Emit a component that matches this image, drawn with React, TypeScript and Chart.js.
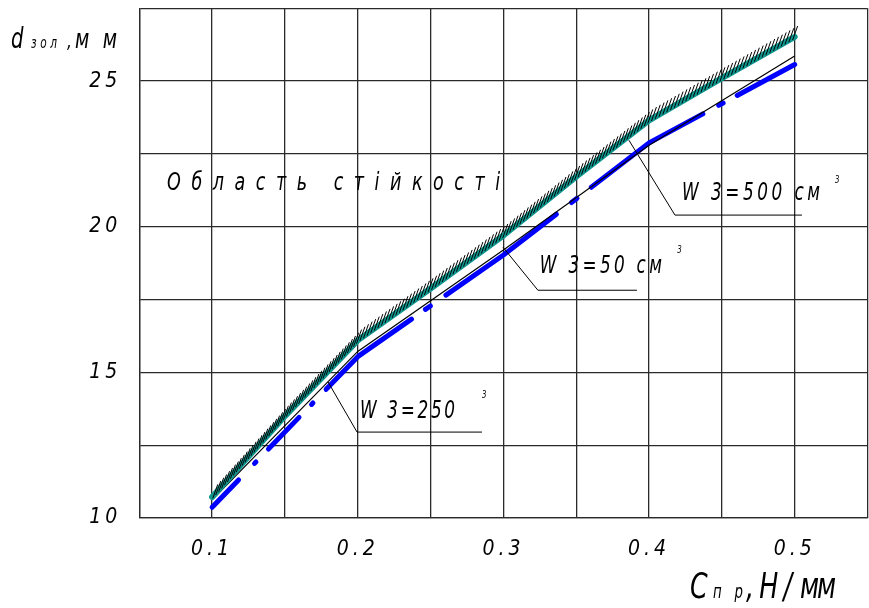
import React, { useEffect, useRef } from 'react';
import { Chart, registerables } from 'chart.js';

Chart.register(...registerables);

// ---- data ----
const xTickValues = [0.1, 0.2, 0.3, 0.4, 0.5];
const xTickLabels = ['0.1', '0.2', '0.3', '0.4', '0.5'];
const yTickValues = [10, 15, 20, 25];
const yTickLabels = ['10', '15', '20', '25'];

// W з = 500 см³ (teal, hatched boundary)
const tealX = [0.1, 0.15, 0.2, 0.25, 0.3, 0.35, 0.4, 0.45, 0.5];
const tealY = [10.72, 13.5, 16.1, 17.88, 19.7, 21.72, 23.65, 25.1, 26.52];
// W з = 50 см³ (thin black)
const thinX = [0.1, 0.2, 0.3, 0.4, 0.5];
const thinY = [10.62, 15.72, 19.2, 22.8, 25.86];
// W з = 250 (blue dash-dot)
const blueX = [0.1, 0.2, 0.3, 0.4, 0.5];
const blueY = [10.37, 15.54, 19.03, 22.88, 25.57];

// callouts (data coordinates)
const calloutTexts = ['W 3=500 см', 'W 3=50 см', 'W 3=250'];
const calloutPoint = [[0.3862, 22.97], [0.2997, 19.3], [0.1796, 14.67]];
const calloutElbow = [[0.4178, 20.4], [0.3237, 17.82], [0.1995, 12.95]];
const calloutEndX = [0.505, 0.3917, 0.2853];
const calloutTextX0 = [0.4226, 0.325, 0.2015];
const calloutTextX1 = [0.5174, 0.4088, 0.2668];
const calloutTextY = [20.91, 18.41, 13.43];
const calloutSupX = [0.5276, 0.4193, 0.2853];
const calloutSupY = [21.5, 19.09, 14.12];

const regionText = 'Область стійкості';
const regionTextPos = [0.0691, 0.2977, 21.26];

// ---- styles ----
const FAMILY = '"Liberation Sans Narrow", "DejaVu Sans Condensed", "Liberation Sans", sans-serif';
const TEAL = '#0f968e';
const BLUE = '#0000ff';
const GRID = '#2a2a2a';
const BLUE_DASH = [38, 23, 2, 18, 44, 18, 2, 19, 111, 17, 6, 19, 137, 19, 7, 18, 134, 18, 5, 16, 120, 20];
const SX = 0.78;

function fitText(ctx: CanvasRenderingContext2D, text: string, x0: number, x1: number | null, baseline: number, size: number) {
  ctx.save();
  ctx.font = `italic ${size}px ${FAMILY}`;
  (ctx as any).letterSpacing = '0px';
  const w = ctx.measureText(text).width;
  const n = Array.from(text).length;
  let s = 0;
  if (x1 !== null && n > 1) s = ((x1 - x0) / SX - w) / (n - 1);
  (ctx as any).letterSpacing = `${s}px`;
  ctx.textAlign = 'left';
  ctx.textBaseline = 'alphabetic';
  ctx.translate(x0, baseline);
  ctx.scale(SX, 1);
  ctx.fillText(text, 0, 0);
  ctx.restore();
}

function fixAxis(a: any, w: number | null, h: number | null) {
  if (w !== null) a.width = w;
  if (h !== null) a.height = h;
  a.paddingTop = 0;
  a.paddingBottom = 0;
  a.paddingLeft = 0;
  a.paddingRight = 0;
}

const decorPlugin = {
  id: 'decor',
  beforeDraw(chart: any) {
    const c = chart.ctx;
    c.save();
    c.fillStyle = '#ffffff';
    c.fillRect(0, 0, chart.width, chart.height);
    c.restore();
    c.letterSpacing = '4px';
  },
  afterDatasetsDraw(chart: any) {
    const ctx: CanvasRenderingContext2D = chart.ctx;
    const xs = chart.scales.x;
    const ys = chart.scales.y;
    // hatching along the teal boundary
    const meta = chart.getDatasetMeta(0);
    const pts = meta.data.map((p: any) => ({ x: p.x, y: p.y }));
    ctx.save();
    ctx.strokeStyle = '#000';
    ctx.lineWidth = 1;
    ctx.beginPath();
    const step = 4.4;
    let carry = 1;
    for (let i = 0; i < pts.length - 1; i++) {
      const a = pts[i], b = pts[i + 1];
      const len = Math.hypot(b.x - a.x, b.y - a.y);
      let d = carry;
      while (d <= len) {
        const t = d / len;
        const x = a.x + (b.x - a.x) * t;
        const y = a.y + (b.y - a.y) * t;
        ctx.moveTo(x, y + 2);
        ctx.lineTo(x + 5, y - 12);
        d += step;
      }
      carry = d - len;
    }
    ctx.stroke();
    ctx.restore();

    // callouts
    ctx.save();
    ctx.strokeStyle = '#000';
    ctx.fillStyle = '#000';
    ctx.lineWidth = 1;
    for (let i = 0; i < calloutTexts.length; i++) {
      ctx.beginPath();
      ctx.moveTo(xs.getPixelForValue(calloutPoint[i][0]), ys.getPixelForValue(calloutPoint[i][1]));
      ctx.lineTo(xs.getPixelForValue(calloutElbow[i][0]), ys.getPixelForValue(calloutElbow[i][1]));
      ctx.lineTo(xs.getPixelForValue(calloutEndX[i]), ys.getPixelForValue(calloutElbow[i][1]));
      ctx.stroke();
      fitText(ctx, calloutTexts[i], xs.getPixelForValue(calloutTextX0[i]), xs.getPixelForValue(calloutTextX1[i]), ys.getPixelForValue(calloutTextY[i]), 24);
      fitText(ctx, '3', xs.getPixelForValue(calloutSupX[i]), null, ys.getPixelForValue(calloutSupY[i]), 10);
    }
    // region label
    fitText(ctx, regionText, xs.getPixelForValue(regionTextPos[0]), xs.getPixelForValue(regionTextPos[1]), ys.getPixelForValue(regionTextPos[2]), 25);
    ctx.restore();
  },
  afterDraw(chart: any) {
    const ctx: CanvasRenderingContext2D = chart.ctx;
    ctx.save();
    ctx.fillStyle = '#000';
    // y-axis title: d зол, мм
    fitText(ctx, 'd', 11, null, 48, 28);
    fitText(ctx, 'зол', 31, 57, 48, 15);
    fitText(ctx, ',', 67, null, 48, 22);
    fitText(ctx, 'мм', 75, 117, 48, 27);
    // x-axis title: Спр, Н/мм
    fitText(ctx, 'С', 690, null, 598, 36);
    fitText(ctx, 'пр', 713, 743, 598, 19);
    fitText(ctx, ',Н/', 746, 792, 598, 36);
    fitText(ctx, 'мм', 800, 836, 598, 36);
    ctx.restore();
    (ctx as any).letterSpacing = '0px';
  },
};

export default function App() {
  const ref = useRef<HTMLCanvasElement | null>(null);
  useEffect(() => {
    if (!ref.current) return;
    const tickFont = { family: FAMILY, size: 21, style: 'italic' as const };
    const chart = new Chart(ref.current, {
      type: 'line',
      data: {
        datasets: [
          {
            label: 'W з=500 см³',
            data: tealX.map((x, i) => ({ x, y: tealY[i] })),
            borderColor: TEAL,
            borderWidth: 6,
            borderCapStyle: 'round',
            borderJoinStyle: 'round',
            pointRadius: 0,
            order: 1,
          },
          {
            label: 'W з=50 см³',
            data: thinX.map((x, i) => ({ x, y: thinY[i] })),
            borderColor: '#000',
            borderWidth: 1.2,
            pointRadius: 0,
            order: 2,
          },
          {
            label: 'W з=250',
            data: blueX.map((x, i) => ({ x, y: blueY[i] })),
            borderColor: BLUE,
            borderWidth: 5,
            borderDash: BLUE_DASH,
            borderCapStyle: 'round',
            borderJoinStyle: 'round',
            pointRadius: 0,
            order: 3,
          },
        ],
      },
      options: {
        animation: false,
        responsive: true,
        maintainAspectRatio: false,
        layout: { padding: { left: 0, top: 8.3, right: 1.5, bottom: 0 } },
        plugins: { legend: { display: false }, tooltip: { enabled: false } },
        scales: {
          x: {
            type: 'linear',
            min: 0.05,
            max: 0.55,
            afterFit: (a: any) => fixAxis(a, null, 90),
            ticks: {
              stepSize: 0.05,
              autoSkip: false,
              maxRotation: 0,
              padding: 19,
              color: '#000',
              font: tickFont,
              callback: (v: any) => {
                const i = xTickValues.findIndex((t) => Math.abs(t - Number(v)) < 1e-6);
                return i >= 0 ? xTickLabels[i] : '';
              },
            },
            grid: { color: GRID, lineWidth: 1.3, drawTicks: false },
            border: { color: GRID, width: 1.3 },
          },
          y: {
            type: 'linear',
            min: 10,
            max: 27.5,
            afterFit: (a: any) => fixAxis(a, 139.3, null),
            ticks: {
              stepSize: 2.5,
              autoSkip: false,
              padding: 18,
              color: '#000',
              font: tickFont,
              callback: (v: any) => {
                const i = yTickValues.findIndex((t) => Math.abs(t - Number(v)) < 1e-6);
                return i >= 0 ? yTickLabels[i] : '';
              },
            },
            grid: { color: GRID, lineWidth: 1.3, drawTicks: false },
            border: { color: GRID, width: 1.3 },
          },
        },
      },
      plugins: [decorPlugin],
    } as any);
    return () => chart.destroy();
  }, []);
  return (
    <div style={{ position: 'absolute', left: 0, top: 0, width: 869, height: 608, background: '#fff' }}>
      <canvas ref={ref} />
    </div>
  );
}
